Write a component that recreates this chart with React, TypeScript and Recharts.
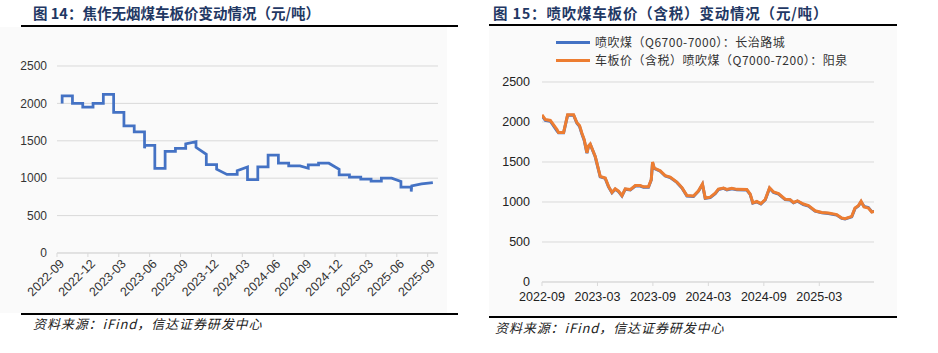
import React from 'react';
import { LineChart, Line, XAxis, YAxis, CartesianGrid } from 'recharts';

// ---------- Left chart: 焦作无烟煤车板价 ----------
const leftTickMonths = [0, 3, 6, 9, 12, 15, 18, 21, 24, 27, 30, 33, 36];
const leftTickLabels = ['2022-09', '2022-12', '2023-03', '2023-06', '2023-09', '2023-12', '2024-03', '2024-06', '2024-09', '2024-12', '2025-03', '2025-06', '2025-09'];
// months elapsed since 2022-09-01
const cokeMonths = [
  0.5, 0.5, 1.5, 1.5, 2.5, 2.5, 3.5, 3.5, 4.5, 4.5, 5.5, 5.5, 6.5, 6.5, 7.5, 7.5,
  8.5, 8.5, 8.55, 9.5, 9.5, 10.5, 10.5, 11.5, 11.5, 12.5, 12.5, 13.5, 13.5, 14.5, 14.5,
  15.5, 15.5, 16.5, 17.5, 17.5, 18.5, 18.5, 19.5, 19.5, 20.5, 20.5, 21.5, 21.5, 22.5, 22.5,
  23.6, 24.4, 24.4, 25.4, 25.4, 26.4, 27.4, 27.4, 28.4, 28.4, 29.5, 29.5, 30.5, 30.5,
  31.5, 31.5, 32.5, 33.4, 33.4, 34.4, 34.4, 34.45, 35.4, 36.5,
];
const cokePrice = [
  2000, 2100, 2100, 2000, 2000, 1950, 1950, 2000, 2000, 2120, 2120, 1880, 1880, 1700, 1700, 1620,
  1620, 1400, 1440, 1440, 1130, 1130, 1360, 1360, 1400, 1400, 1460, 1488, 1413, 1320, 1180,
  1180, 1120, 1050, 1050, 1100, 1150, 980, 980, 1150, 1150, 1310, 1310, 1200, 1200, 1165,
  1165, 1133, 1177, 1177, 1200, 1200, 1120, 1045, 1045, 1013, 1013, 987, 987, 960,
  960, 1000, 1000, 956, 880, 880, 822, 897, 924, 941,
];

// ---------- Right chart: 喷吹煤车板价 ----------
const rightTickMonths = [0, 6, 12, 18, 24, 30];
const rightTickLabels = ['2022-09', '2023-03', '2023-09', '2024-03', '2024-09', '2025-03'];
const pciMonths = [
  0.0, 0.36, 0.9, 1.62, 1.79, 2.34, 2.77, 3.42, 3.78, 4.06, 4.32, 4.57, 4.86, 5.03, 5.22, 5.76,
  6.3, 6.84, 7.2, 7.57, 7.92, 8.28, 8.65, 9.01, 9.55, 10.09, 10.63, 10.98, 11.52, 11.82, 11.96, 12.14,
  12.79, 13.33, 13.87, 14.59, 15.14, 15.68, 16.39, 16.93, 17.36, 17.66, 18.2, 18.74, 19.09, 19.64,
  20.0, 20.54, 21.08, 22.16, 22.52, 22.81, 23.24, 23.68, 24.15, 24.62, 25.05, 25.59, 26.31, 26.85,
  27.21, 27.64, 28.28, 28.83, 29.55, 30.27, 30.98, 31.89, 32.43, 32.79, 33.51, 33.87, 34.23, 34.52,
  34.84, 35.31, 35.68, 35.92,
];
const changzhiPrice = [
  2080, 2020, 2010, 1890, 1865, 1865, 2085, 2085, 1985, 1945, 1850, 1770, 1610, 1695, 1720, 1565,
  1315, 1295, 1190, 1115, 1160, 1130, 1075, 1160, 1150, 1200, 1200, 1185, 1185, 1275, 1490, 1420,
  1385, 1325, 1305, 1245, 1175, 1075, 1070, 1135, 1220, 1045, 1055, 1105, 1155, 1170,
  1152, 1165, 1152, 1150, 1095, 985, 1002, 975, 1025, 1172, 1120, 1098, 1030, 1025,
  990, 1010, 968, 948, 885, 865, 857, 836, 795, 787, 815, 920, 950, 1002,
  945, 930, 880, 882,
];
const yangquanPrice = [
  2090, 2030, 2020, 1904, 1870, 1870, 2090, 2090, 1990, 1955, 1860, 1780, 1615, 1700, 1725, 1570,
  1320, 1300, 1195, 1120, 1165, 1135, 1080, 1165, 1155, 1205, 1205, 1190, 1190, 1280, 1500, 1425,
  1390, 1330, 1312, 1250, 1180, 1080, 1075, 1140, 1225, 1050, 1060, 1110, 1162, 1175,
  1158, 1172, 1158, 1155, 1100, 990, 1008, 980, 1030, 1178, 1125, 1105, 1035, 1030,
  995, 1015, 975, 955, 890, 870, 862, 842, 800, 792, 820, 925, 955, 1008,
  937, 925, 875, 880,
];

const yTicks = [0, 500, 1000, 1500, 2000, 2500];

const leftData = cokeMonths.map((m, i) => ({ m, price: cokePrice[i] }));
const rightData = pciMonths.map((m, i) => ({ m, changzhi: changzhiPrice[i], yangquan: yangquanPrice[i] }));

const NUM_FONT = "'Liberation Sans', Arial, sans-serif";
const CJK_FONT = "'Noto Sans CJK SC', 'Liberation Sans', sans-serif";
const AXIS_GRAY = '#d9d9d9';
const LABEL = '#333';
const BLUE = '#4472C4';
const ORANGE = '#ED7D31';

const RotatedTick = (props: any) => {
  const { x, y, payload } = props;
  const idx = leftTickMonths.indexOf(payload.value);
  const label = idx >= 0 ? leftTickLabels[idx] : '';
  return (
    <g transform={`translate(${x + 8},${y + 5.5}) rotate(-45)`}>
      <text x={0} y={0} textAnchor="end" fill={LABEL} fontSize={12.5} fontFamily={NUM_FONT}>
        {label}
      </text>
    </g>
  );
};

const titleStyle: React.CSSProperties = {
  position: 'absolute',
  fontFamily: CJK_FONT,
  fontWeight: 'bold',
  fontSize: 14.5,
  color: '#1F3864',
  whiteSpace: 'nowrap',
  lineHeight: '18px',
};

const sourceStyle: React.CSSProperties = {
  position: 'absolute',
  fontFamily: CJK_FONT,
  fontStyle: 'italic',
  fontSize: 13,
  letterSpacing: 0.9,
  color: '#222',
  whiteSpace: 'nowrap',
  lineHeight: '16px',
};

const legendText: React.CSSProperties = {
  position: 'absolute',
  fontFamily: CJK_FONT,
  fontSize: 12,
  letterSpacing: 0.5,
  color: '#333',
  whiteSpace: 'nowrap',
  lineHeight: '14px',
};

export default function App() {
  return (
    <div style={{ position: 'absolute', left: 0, top: 0, width: 938, height: 353, background: '#fff', overflow: 'hidden' }}>
      {/* panel backgrounds */}
      <div style={{ position: 'absolute', left: 0, top: 27, width: 447, height: 286, background: '#fafafa' }} />
      <div style={{ position: 'absolute', left: 489, top: 26, width: 408, height: 290, background: '#fafafa' }} />

      {/* Left title */}
      <div style={{ ...titleStyle, left: 33, top: 4 }}>图 14：焦作无烟煤车板价变动情况（元/吨）</div>
      <div style={{ position: 'absolute', left: 21, top: 25, width: 437, height: 2, background: '#000' }} />

      {/* Right title */}
      <div style={{ ...titleStyle, left: 493, top: 4, letterSpacing: 0.8 }}>图 15：喷吹煤车板价（含税）变动情况（元/吨）</div>
      <div style={{ position: 'absolute', left: 489, top: 24, width: 408, height: 2, background: '#000' }} />

      {/* Left chart */}
      <div style={{ position: 'absolute', left: 0, top: 0 }}>
        <LineChart width={470} height={353} data={leftData} margin={{ top: 66, right: 32, bottom: 40, left: 0 }}>
          <CartesianGrid vertical={false} stroke={AXIS_GRAY} strokeWidth={1} />
          <XAxis
            type="number"
            dataKey="m"
            domain={[0, 37]}
            ticks={leftTickMonths}
            interval={0}
            height={60}
            stroke={AXIS_GRAY}
            tickSize={4}
            tickMargin={2}
            tick={<RotatedTick />}
            allowDataOverflow
          />
          <YAxis
            type="number"
            domain={[0, 2500]}
            ticks={yTicks}
            width={57}
            axisLine={false}
            tickLine={false}
            tickMargin={4}
            tick={{ fill: LABEL, fontSize: 12, fontFamily: NUM_FONT }}
          />
          <Line
            type="linear"
            dataKey="price"
            stroke={BLUE}
            strokeWidth={2.75}
            dot={false}
            activeDot={false}
            isAnimationActive={false}
          />
        </LineChart>
      </div>

      {/* Right legend */}
      <div style={{ position: 'absolute', left: 556, top: 41, width: 34, height: 3, background: BLUE }} />
      <div style={{ ...legendText, left: 595, top: 35 }}>喷吹煤（Q6700-7000）：长治路城</div>
      <div style={{ position: 'absolute', left: 556, top: 59, width: 34, height: 3, background: ORANGE }} />
      <div style={{ ...legendText, left: 595, top: 53 }}>车板价（含税）喷吹煤（Q7000-7200）：阳泉</div>

      {/* Right chart */}
      <div style={{ position: 'absolute', left: 470, top: 0 }}>
        <LineChart width={468} height={353} data={rightData} margin={{ top: 82, right: 64, bottom: 41, left: 0 }}>
          <CartesianGrid vertical={false} stroke={AXIS_GRAY} strokeWidth={1} />
          <XAxis
            type="number"
            dataKey="m"
            domain={[0, 35.92]}
            ticks={rightTickMonths}
            interval={0}
            height={30}
            stroke={AXIS_GRAY}
            tickSize={4}
            tickMargin={6}
            tickFormatter={(v: number) => {
              const i = rightTickMonths.indexOf(v);
              return i >= 0 ? rightTickLabels[i] : '';
            }}
            tick={{ fill: '#222', fontSize: 12.5, fontFamily: NUM_FONT }}
            allowDataOverflow
          />
          <YAxis
            type="number"
            domain={[0, 2500]}
            ticks={yTicks}
            width={72}
            axisLine={false}
            tickLine={false}
            tickMargin={6}
            tick={{ fill: '#222', fontSize: 12.5, fontFamily: NUM_FONT }}
          />
          <Line
            type="linear"
            dataKey="changzhi"
            stroke={BLUE}
            strokeWidth={3}
            dot={false}
            activeDot={false}
            isAnimationActive={false}
          />
          <Line
            type="linear"
            dataKey="yangquan"
            stroke={ORANGE}
            strokeWidth={3}
            dot={false}
            activeDot={false}
            isAnimationActive={false}
          />
        </LineChart>
      </div>

      {/* Bottom rules and sources */}
      <div style={{ position: 'absolute', left: 21, top: 313, width: 437, height: 2, background: '#000' }} />
      <div style={{ ...sourceStyle, left: 33, top: 316 }}>资料来源：iFind，信达证券研发中心</div>
      <div style={{ position: 'absolute', left: 489, top: 316, width: 408, height: 2, background: '#000' }} />
      <div style={{ ...sourceStyle, left: 495, top: 320 }}>资料来源：iFind，信达证券研发中心</div>
    </div>
  );
}
